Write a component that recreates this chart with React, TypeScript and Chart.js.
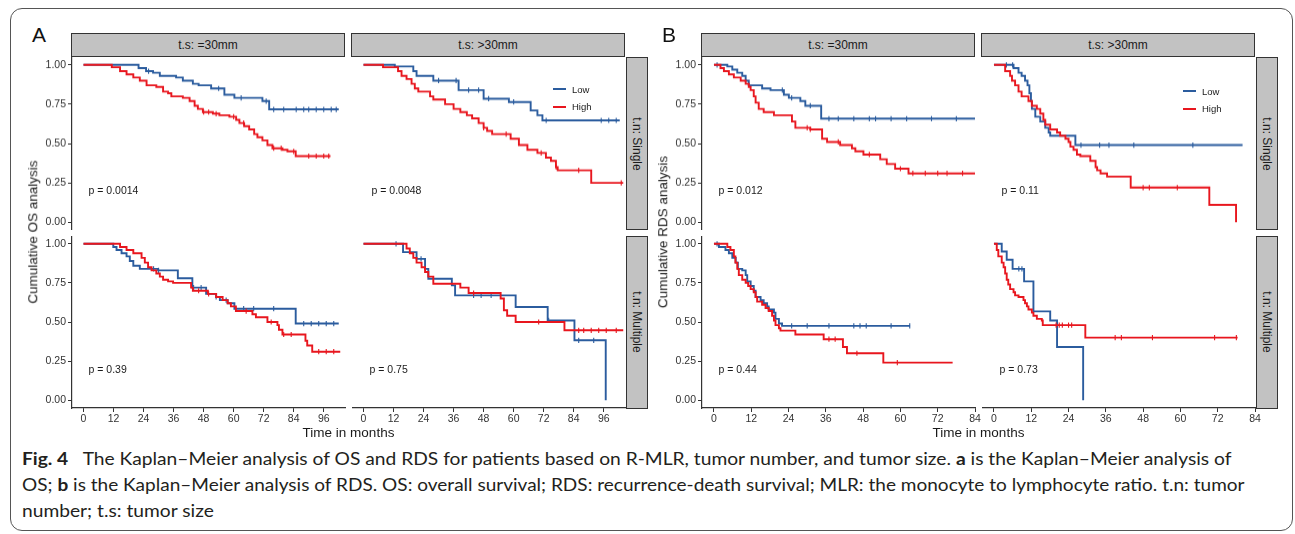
import React, { useEffect, useLayoutEffect, useRef } from "react";
import { Chart, registerables } from "chart.js";

Chart.register(...registerables);

type Pt = [number, number];

// ---------- DATA ----------
// Figure A (OS): rows = tumor number, columns = tumor size
const osSingleSmallLow: Pt[] = [[0, 1], [22, 0.98], [25, 0.96], [27.8, 0.95], [30.5, 0.93], [37, 0.92], [39.7, 0.9], [43.7, 0.88], [46, 0.87], [51, 0.85], [56.3, 0.81], [60.3, 0.79], [71.5, 0.77], [74.2, 0.717], [102, 0.717]];
const osSingleSmallHigh: Pt[] = [[0, 1], [11.3, 0.985], [14.6, 0.96], [17.2, 0.94], [19.9, 0.92], [22.5, 0.9], [25.2, 0.87], [29.1, 0.86], [31.8, 0.83], [33.8, 0.82], [35.1, 0.8], [39.7, 0.79], [42.4, 0.77], [44.4, 0.74], [45.7, 0.72], [47.7, 0.7], [51.7, 0.69], [54.3, 0.68], [58.3, 0.67], [61, 0.65], [62.3, 0.63], [64.2, 0.61], [66.2, 0.59], [68.2, 0.56], [69.5, 0.54], [71.5, 0.52], [73.5, 0.49], [75.5, 0.47], [79.5, 0.46], [81.5, 0.45], [84.8, 0.42], [98.7, 0.42]];
const osSingleLargeLow: Pt[] = [[0, 1], [12.5, 0.99], [19.9, 0.96], [21.2, 0.93], [27.9, 0.9], [38, 0.84], [48, 0.785], [58.1, 0.764], [66.8, 0.71], [69.5, 0.68], [71.5, 0.647], [102.4, 0.647]];
const osSingleLargeHigh: Pt[] = [[0, 1], [7.8, 0.985], [13.8, 0.96], [15.2, 0.93], [17.2, 0.91], [19.2, 0.88], [20.5, 0.85], [21.9, 0.83], [26.6, 0.8], [27.9, 0.78], [32.6, 0.75], [36, 0.72], [38.7, 0.7], [41.3, 0.68], [43.4, 0.66], [46, 0.63], [48, 0.6], [49.4, 0.58], [51.4, 0.56], [58.8, 0.53], [62.1, 0.49], [65.5, 0.46], [69.5, 0.44], [72.9, 0.41], [74.9, 0.39], [76.9, 0.35], [77.6, 0.33], [91, 0.25], [103.8, 0.25]];
const osMultiSmallLow: Pt[] = [[0, 1], [11.9, 0.98], [13.2, 0.96], [15.2, 0.94], [17.2, 0.92], [18.5, 0.89], [19.9, 0.86], [22.5, 0.84], [29.8, 0.83], [37.7, 0.78], [43.5, 0.72], [49, 0.68], [53, 0.66], [54.5, 0.64], [57.6, 0.62], [60.3, 0.585], [84.8, 0.49], [102, 0.49]];
const osMultiSmallHigh: Pt[] = [[0, 1], [14.6, 0.98], [17.2, 0.96], [19.9, 0.94], [23.2, 0.91], [24.5, 0.88], [25.8, 0.85], [27.2, 0.83], [29.1, 0.81], [30.5, 0.79], [31.8, 0.77], [33.8, 0.76], [35.8, 0.75], [43, 0.72], [43.7, 0.7], [49.7, 0.68], [53, 0.66], [55.6, 0.64], [57.6, 0.62], [58.9, 0.6], [60.9, 0.57], [67.5, 0.55], [68.9, 0.53], [73.5, 0.5], [77.5, 0.48], [78.1, 0.45], [79.5, 0.42], [88.7, 0.38], [89.4, 0.35], [91.4, 0.31], [102.6, 0.31]];
const osMultiLargeLow: Pt[] = [[0, 1], [15.8, 0.947], [21.2, 0.904], [24.6, 0.84], [25.9, 0.777], [35.3, 0.734], [36.6, 0.67], [60.8, 0.596], [73.6, 0.51], [84.3, 0.383], [96.8, 0]];
const osMultiLargeHigh: Pt[] = [[0, 1], [17.2, 0.97], [18.5, 0.94], [19.9, 0.91], [21.2, 0.88], [23.2, 0.85], [24.6, 0.82], [25.9, 0.79], [27.9, 0.745], [38.7, 0.72], [42, 0.685], [54.8, 0.65], [56.1, 0.575], [57.4, 0.54], [60.8, 0.5], [80.3, 0.447], [103.8, 0.447]];

// Figure B (RDS)
const rdsSingleSmallLow: Pt[] = [[0, 1], [4.3, 0.99], [5.9, 0.97], [7.5, 0.95], [9.1, 0.93], [10.2, 0.9], [11.2, 0.87], [15.5, 0.85], [18.2, 0.84], [22.5, 0.81], [24.1, 0.79], [27.8, 0.77], [29.4, 0.74], [34.5, 0.658], [84, 0.658]];
const rdsSingleSmallHigh: Pt[] = [[0, 1], [2.1, 0.98], [3.2, 0.96], [4.8, 0.94], [6.4, 0.92], [8.6, 0.9], [10.2, 0.88], [11.2, 0.86], [11.8, 0.84], [12.8, 0.8], [13.4, 0.76], [14.4, 0.72], [16, 0.7], [19.3, 0.68], [25.1, 0.64], [26.2, 0.6], [31, 0.59], [34.8, 0.53], [36.4, 0.51], [40.6, 0.49], [44.4, 0.47], [45.5, 0.45], [48.1, 0.43], [53.5, 0.4], [55.6, 0.37], [58.3, 0.34], [62.6, 0.31], [84, 0.31]];
const rdsSingleLargeLow: Pt[] = [[0, 1], [6.3, 0.98], [7.9, 0.95], [8.9, 0.93], [10, 0.9], [10.8, 0.87], [11.4, 0.82], [11.9, 0.77], [12.2, 0.72], [13.3, 0.67], [14.9, 0.64], [16.5, 0.6], [17.6, 0.57], [18.1, 0.55], [26.2, 0.49], [80, 0.49]];
const rdsSingleLargeHigh: Pt[] = [[0, 1], [3.6, 0.96], [5.2, 0.93], [5.8, 0.9], [6.8, 0.87], [7.9, 0.83], [8.9, 0.8], [11.1, 0.77], [12.2, 0.74], [13.8, 0.72], [14.9, 0.69], [15.9, 0.65], [16.5, 0.62], [18.1, 0.59], [20.3, 0.57], [21.3, 0.55], [23, 0.53], [24, 0.51], [24.6, 0.48], [25.6, 0.46], [26.7, 0.43], [27.8, 0.42], [31, 0.39], [32.7, 0.35], [33.2, 0.33], [34.3, 0.31], [36.4, 0.29], [44, 0.22], [69.3, 0.11], [77.9, 0]];
const rdsMultiSmallLow: Pt[] = [[0, 1], [1.6, 0.98], [3.7, 0.96], [4.8, 0.94], [5.9, 0.91], [7, 0.88], [7.7, 0.84], [9.1, 0.83], [10.2, 0.8], [10.7, 0.76], [11.8, 0.73], [12.8, 0.7], [13.4, 0.66], [15, 0.64], [16, 0.62], [17.1, 0.6], [17.6, 0.58], [19.3, 0.56], [19.8, 0.52], [20.9, 0.49], [21.9, 0.475], [63.1, 0.475]];
const rdsMultiSmallHigh: Pt[] = [[0, 1], [4.3, 0.98], [5.3, 0.96], [6.4, 0.92], [6.9, 0.88], [7.5, 0.84], [8, 0.8], [9.1, 0.77], [10.2, 0.75], [11, 0.73], [11.8, 0.71], [12.8, 0.69], [13.4, 0.66], [13.9, 0.63], [15.5, 0.61], [16.6, 0.59], [17.6, 0.57], [18.7, 0.54], [19.3, 0.51], [19.8, 0.48], [20.9, 0.46], [21.4, 0.445], [26.2, 0.42], [35.3, 0.39], [41.5, 0.34], [42.8, 0.3], [54.5, 0.24], [76.8, 0.24]];
const rdsMultiLargeLow: Pt[] = [[0, 1], [2.5, 0.951], [4.1, 0.898], [6, 0.84], [9.7, 0.76], [12.7, 0.568], [18.1, 0.51], [20.3, 0.34], [28.7, 0]];
const rdsMultiLargeHigh: Pt[] = [[0, 1], [0.9, 0.96], [1.4, 0.92], [2.5, 0.88], [3.1, 0.85], [3.6, 0.81], [4.1, 0.77], [4.6, 0.74], [5.2, 0.71], [6.3, 0.69], [6.8, 0.67], [7.9, 0.66], [9.5, 0.64], [10, 0.62], [10.6, 0.6], [11.1, 0.58], [12.2, 0.56], [12.7, 0.54], [13.8, 0.52], [15.4, 0.51], [15.7, 0.48], [29.4, 0.4], [78.4, 0.4]];

// censoring times
const osSingleSmallLowCens = [26, 54, 63, 73, 76, 80, 85, 88, 90, 93, 96, 99, 101];
const osSingleSmallHighCens = [48, 50, 53, 60, 64, 76, 79, 84, 90, 93, 96, 98];
const osSingleLargeLowCens = [30, 37, 42, 46, 50, 60, 73, 95, 98, 101];
const osSingleLargeHighCens = [48, 57, 71, 77, 86, 103];
const osMultiSmallLowCens = [28, 30, 44, 47, 53, 57, 64, 68, 76, 88, 91, 94, 97, 100];
const osMultiSmallHighCens = [46, 50, 65, 75, 80, 83, 94, 97, 100];
const osMultiLargeLowCens = [13, 23, 44, 47, 51, 74, 86, 92];
const osMultiLargeHighCens = [44, 70, 86, 88, 91, 94, 97, 101];
const rdsSingleSmallLowCens = [1, 22, 25, 31, 37, 40, 45, 50, 52, 57, 62, 70, 78];
const rdsSingleSmallHighCens = [30, 31, 40, 50, 60, 64, 68, 72, 75, 80];
const rdsSingleLargeLowCens = [4, 6, 28, 34, 37, 45, 64];
const rdsSingleLargeHighCens = [48, 50, 59];
const rdsMultiSmallLowCens = [1, 25, 30, 37, 45, 47, 49, 57, 63];
const rdsMultiSmallHighCens = [37, 39, 46, 59];
const rdsMultiLargeLowCens = [8, 9];
const rdsMultiLargeHighCens = [20, 21, 22, 24, 25, 39, 41, 51, 71, 78];

const xTicksOS = [0, 12, 24, 36, 48, 60, 72, 84, 96];
const xTicksRDS = [0, 12, 24, 36, 48, 60, 72, 84];
const yTickValues = [0, 0.25, 0.5, 0.75, 1];
const yTickLabels = ["0.00", "0.25", "0.50", "0.75", "1.00"];
const pValuesOS = ["p = 0.0014", "p = 0.0048", "p = 0.39", "p = 0.75"];
const pValuesRDS = ["p = 0.012", "p = 0.11", "p = 0.44", "p = 0.73"];
const columnStrips = ["t.s: =30mm", "t.s: >30mm"];
const rowStrips = ["t.n: Single", "t.n: Multiple"];
const groupLabels = ["Low", "High"];

// ---------- STYLE ----------
const FONT = '"Liberation Sans", Arial, Helvetica, sans-serif';
const BLUE = "#2B5C9E";
const RED = "#E8161E";
const AXIS = "#333333";
const TICK = "#333333";

function survAt(curve: Pt[], t: number): number {
  let s = curve[0][1];
  for (const [x, y] of curve) {
    if (x <= t) s = y;
    else break;
  }
  return s;
}

type PanelProps = {
  left: number; top: number; width: number; height: number;
  xMin: number; xMax: number; xTicks: number[];
  showX: boolean; showY: boolean;
  low: Pt[]; high: Pt[]; lowCens: number[]; highCens: number[];
};

function Panel(p: PanelProps) {
  const ref = useRef<HTMLCanvasElement>(null);
  const padL = p.showY ? 48 : 0;
  const padB = p.showX ? 22 : 0;
  const padR = 10;
  const cw = p.width + padL + padR;
  const ch = p.height + padB;

  useEffect(() => {
    const tickFont = { family: FONT, size: 10.5 };
    const lineDs = (curve: Pt[], color: string, label: string, order: number) => ({
      type: "line" as const, label, order,
      data: curve.map(([x, y]) => ({ x, y })),
      borderColor: color, backgroundColor: color, borderWidth: 1.9,
      stepped: "before" as const, pointRadius: 0, fill: false,
    });
    const censDs = (curve: Pt[], cens: number[], color: string, label: string, order: number) => ({
      type: "scatter" as const, label, order,
      data: cens.map((t) => ({ x: t, y: survAt(curve, t) })),
      pointStyle: "line" as const, rotation: 90, pointRadius: 2.6,
      borderColor: color, backgroundColor: color, borderWidth: 1.1,
    });
    const chart = new Chart(ref.current as HTMLCanvasElement, {
      type: "line",
      data: {
        datasets: [
          lineDs(p.low, BLUE, groupLabels[0], 4),
          censDs(p.low, p.lowCens, BLUE, groupLabels[0] + " censored", 3),
          lineDs(p.high, RED, groupLabels[1], 2),
          censDs(p.high, p.highCens, RED, groupLabels[1] + " censored", 1),
        ] as any,
      },
      options: {
        animation: false,
        responsive: false,
        devicePixelRatio: 1,
        events: [],
        layout: { padding: { left: 0, right: padR, top: 0, bottom: 0 }, autoPadding: false },
        plugins: { legend: { display: false }, tooltip: { enabled: false } },
        scales: {
          x: {
            type: "linear", min: p.xMin, max: p.xMax, display: p.showX,
            grid: { display: true, drawOnChartArea: false, drawTicks: true, tickLength: 4, color: AXIS, lineWidth: 1 },
            border: { display: true, color: AXIS, width: 1.2 },
            ticks: {
              font: tickFont, color: TICK, padding: 1, maxRotation: 0, autoSkip: false, includeBounds: false,
              callback: (v: any) => String(v),
            },
            afterBuildTicks: (s: any) => { s.ticks = p.xTicks.map((v) => ({ value: v })); },
            afterFit: (s: any) => {
              s.height = padB;
              s.paddingLeft = 0; s.paddingRight = 0; s.paddingTop = 0; s.paddingBottom = 0;
            },
          },
          y: {
            type: "linear", min: -0.05, max: 1.05, display: p.showY,
            grid: { display: true, drawOnChartArea: false, drawTicks: true, tickLength: 4, color: AXIS, lineWidth: 1 },
            border: { display: true, color: AXIS, width: 1.2 },
            ticks: {
              font: tickFont, color: TICK, padding: 2, autoSkip: false, includeBounds: false,
              callback: (v: any) => yTickLabels[yTickValues.indexOf(Number(v))],
            },
            afterBuildTicks: (s: any) => { s.ticks = yTickValues.map((v) => ({ value: v })); },
            afterFit: (s: any) => {
              s.width = padL;
              s.paddingLeft = 0; s.paddingRight = 0; s.paddingTop = 0; s.paddingBottom = 0;
            },
          },
        },
      } as any,
    });
    return () => chart.destroy();
  }, []);

  return (
    <canvas
      ref={ref}
      width={cw}
      height={ch}
      style={{ position: "absolute", left: p.left - padL, top: p.top, width: cw, height: ch }}
    />
  );
}

const stripBase: React.CSSProperties = {
  position: "absolute", boxSizing: "border-box", background: "#C2C2C2",
  border: "1px solid #333", fontFamily: FONT, fontSize: 12, color: "#1A1A1A",
  display: "flex", alignItems: "center", justifyContent: "center", overflow: "hidden",
};

function TopStrip({ left, text }: { left: number; text: string }) {
  return <div style={{ ...stripBase, left, top: 33, width: 274, height: 24 }}>{text}</div>;
}

function SideStrip({ left, top, text }: { left: number; top: number; text: string }) {
  return (
    <div style={{ ...stripBase, left, top, width: 22, height: 173 }}>
      <span style={{ transform: "rotate(90deg)", whiteSpace: "nowrap", display: "inline-block" }}>{text}</span>
    </div>
  );
}

function Abs({ left, top, children, style }: { left: number; top: number; children: React.ReactNode; style?: React.CSSProperties }) {
  return <div style={{ position: "absolute", left, top, fontFamily: FONT, whiteSpace: "nowrap", lineHeight: 1, ...style }}>{children}</div>;
}

function Legend({ left, top }: { left: number; top: number }) {
  const row = (color: string, label: string, dy: number) => (
    <div style={{ position: "absolute", left: 0, top: dy, display: "flex", alignItems: "center", height: 12 }}>
      <div style={{ width: 13, height: 2, background: color, marginRight: 6 }} />
      <span style={{ fontFamily: FONT, fontSize: 9.5, color: "#1A1A1A" }}>{label}</span>
    </div>
  );
  return (
    <div style={{ position: "absolute", left, top }}>
      {row(BLUE, groupLabels[0], 0)}
      {row(RED, groupLabels[1], 17.5)}
    </div>
  );
}

function YTitle({ cx, cy, text }: { cx: number; cy: number; text: string }) {
  return (
    <div style={{ position: "absolute", left: cx, top: cy, width: 0, height: 0 }}>
      <div style={{ position: "absolute", left: 0, top: 0, transform: "translate(-50%, -50%) rotate(-90deg)", whiteSpace: "nowrap", fontFamily: FONT, fontSize: 13.5, color: "#1A1A1A", lineHeight: 1 }}>{text}</div>
    </div>
  );
}

function XTitle({ cx, cy, text }: { cx: number; cy: number; text: string }) {
  return (
    <div style={{ position: "absolute", left: cx, top: cy, width: 0, height: 0 }}>
      <div style={{ position: "absolute", left: 0, top: 0, transform: "translate(-50%, -50%)", whiteSpace: "nowrap", fontFamily: FONT, fontSize: 13.5, color: "#1A1A1A", lineHeight: 1 }}>{text}</div>
    </div>
  );
}

function Figure({ x0, label, yTitle, xMin, xMax, xTicks, pv, curves, cens }: {
  x0: number; label: string; yTitle: string; xMin: number; xMax: number; xTicks: number[]; pv: string[];
  curves: Pt[][]; cens: number[][];
}) {
  // x0 = left edge of the first panel
  const colLeft = [x0, x0 + 280];
  const rowTop = [57, 235.5];
  const W = 273, H = 172.5;
  const panels = [];
  for (let r = 0; r < 2; r++) {
    for (let c = 0; c < 2; c++) {
      const k = r * 2 + c;
      panels.push(
        <Panel key={k} left={colLeft[c]} top={rowTop[r]} width={W} height={H}
          xMin={xMin} xMax={xMax} xTicks={xTicks} showX={r === 1} showY={c === 0}
          low={curves[k * 2]} high={curves[k * 2 + 1]} lowCens={cens[k * 2]} highCens={cens[k * 2 + 1]} />
      );
    }
  }
  const pPos = [[16.5, 184.7], [19.5, 184.7], [16.5, 364], [17.5, 364]];
  return (
    <>
      <Abs left={x0 - 40} top={24.3} style={{ fontSize: 21, color: "#111" }}>{label}</Abs>
      <TopStrip left={colLeft[0] - 1} text={columnStrips[0]} />
      <TopStrip left={colLeft[1] - 1} text={columnStrips[1]} />
      <SideStrip left={colLeft[1] + W + 1} top={57} text={rowStrips[0]} />
      <SideStrip left={colLeft[1] + W + 1} top={235.5} text={rowStrips[1]} />
      {panels}
      {pv.map((t, i) => (
        <Abs key={i} left={colLeft[i % 2] + pPos[i][0]} top={pPos[i][1]} style={{ fontSize: 10.5, color: "#1A1A1A" }}>{t}</Abs>
      ))}
      <YTitle cx={x0 - 39} cy={232} text={yTitle} />
      <XTitle cx={x0 + 276.5} cy={433} text="Time in months" />
    </>
  );
}

function CaptionLine({ top, target, children, lineRef }: { top: number; target: number; children: React.ReactNode; lineRef: React.RefObject<HTMLDivElement> }) {
  return (
    <div ref={lineRef} data-target={target} style={{
      position: "absolute", left: 22, top, whiteSpace: "nowrap", fontFamily: "Lato, 'Open Sans', sans-serif",
      fontSize: 16.5, color: "#231F20", lineHeight: "20px", transformOrigin: "0 50%", display: "inline-block",
    }}>{children}</div>
  );
}

function Caption() {
  const r1 = useRef<HTMLDivElement>(null);
  const r2 = useRef<HTMLDivElement>(null);
  const r3 = useRef<HTMLDivElement>(null);
  useLayoutEffect(() => {
    const fit = (el: HTMLDivElement | null) => {
      if (!el) return 1;
      const target = Number(el.dataset.target);
      const s = target / el.offsetWidth;
      el.style.transform = `scaleX(${s})`;
      return s;
    };
    const s1 = fit(r1.current);
    fit(r2.current);
    if (r3.current) r3.current.style.transform = `scaleX(${s1})`;
  }, []);
  return (
    <>
      <CaptionLine lineRef={r1} top={449} target={1209}>
        <b>Fig. 4</b>{"\u2003"}The Kaplan–Meier analysis of OS and RDS for patients based on R-MLR, tumor number, and tumor size. <b>a</b> is the Kaplan–Meier analysis of
      </CaptionLine>
      <CaptionLine lineRef={r2} top={475} target={1223}>
        OS; <b>b</b> is the Kaplan–Meier analysis of RDS. OS: overall survival; RDS: recurrence-death survival; MLR: the monocyte to lymphocyte ratio. t.n: tumor
      </CaptionLine>
      <CaptionLine lineRef={r3} top={501} target={0}>
        number; t.s: tumor size
      </CaptionLine>
    </>
  );
}

export default function App() {
  return (
    <div style={{ position: "absolute", left: 0, top: 0, width: 1295, height: 534, background: "#fff", overflow: "hidden" }}>
      <div style={{ position: "absolute", left: 10, top: 8, width: 1283, height: 523, boxSizing: "border-box", border: "1px solid #555", borderRadius: 12 }} />
      <Figure x0={72} label="A" yTitle="Cumulative OS analysis" xMin={-4.6} xMax={104.5} xTicks={xTicksOS} pv={pValuesOS}
        curves={[osSingleSmallLow, osSingleSmallHigh, osSingleLargeLow, osSingleLargeHigh, osMultiSmallLow, osMultiSmallHigh, osMultiLargeLow, osMultiLargeHigh]}
        cens={[osSingleSmallLowCens, osSingleSmallHighCens, osSingleLargeLowCens, osSingleLargeHighCens, osMultiSmallLowCens, osMultiSmallHighCens, osMultiLargeLowCens, osMultiLargeHighCens]} />
      <Legend left={553} top={83} />
      <Figure x0={702} label="B" yTitle="Cumulative RDS analysis" xMin={-3.85} xMax={84} xTicks={xTicksRDS} pv={pValuesRDS}
        curves={[rdsSingleSmallLow, rdsSingleSmallHigh, rdsSingleLargeLow, rdsSingleLargeHigh, rdsMultiSmallLow, rdsMultiSmallHigh, rdsMultiLargeLow, rdsMultiLargeHigh]}
        cens={[rdsSingleSmallLowCens, rdsSingleSmallHighCens, rdsSingleLargeLowCens, rdsSingleLargeHighCens, rdsMultiSmallLowCens, rdsMultiSmallHighCens, rdsMultiLargeLowCens, rdsMultiLargeHighCens]} />
      <Legend left={1183} top={85} />
      <Caption />
    </div>
  );
}
